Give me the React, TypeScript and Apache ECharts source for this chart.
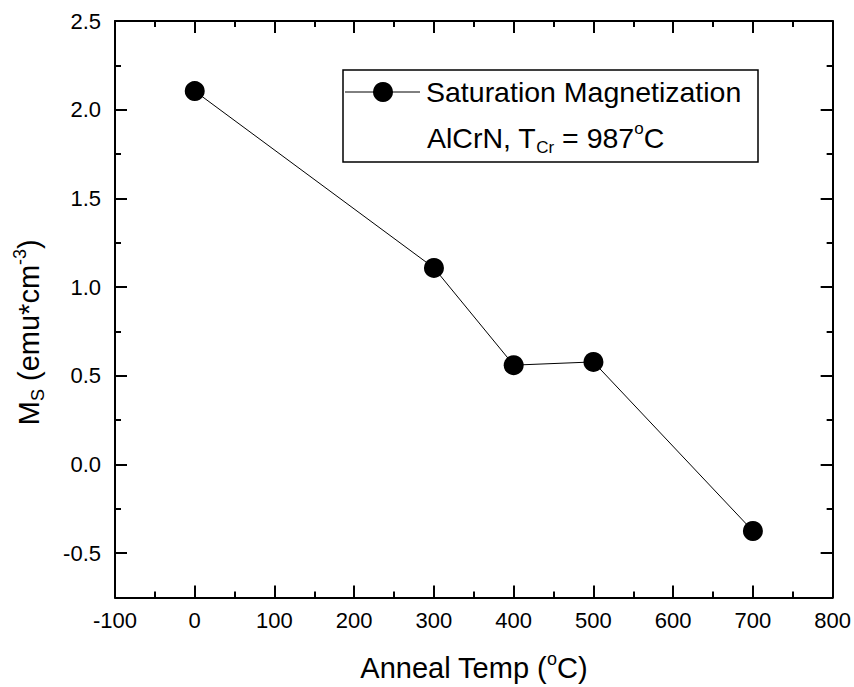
import React, { useEffect, useRef } from "react";
import * as echarts from "echarts";

const annealTemp = [0, 300, 400, 500, 700];
const saturationMagnetization = [2.105, 1.108, 0.56, 0.578, -0.375];
const seriesName = "Saturation Magnetization";
const sampleLabel = "AlCrN";
const tcrValue = "987";
const yMajorTicks = [-0.5, 0, 0.5, 1.0, 1.5, 2.0, 2.5];
const xRange = [-100, 800];
const xStep = 100;
const yRange = [-0.75, 2.5];
const yMinorStep = 0.25;

const FONT = "'Liberation Sans', Arial, Helvetica, sans-serif";

export default function App() {
  const ref = useRef<HTMLDivElement>(null);
  useEffect(() => {
    if (!ref.current) return;
    const chart = echarts.init(ref.current, undefined, { renderer: "svg" });
    const axisLine = { show: true, onZero: false, lineStyle: { color: "#000", width: 2 } };
    const hiddenLine = { show: false, onZero: false };
    const baseX = {
      type: "value" as const,
      min: xRange[0],
      max: xRange[1],
      interval: xStep,
      axisLine,
      splitLine: { show: false },
      axisTick: { show: true, inside: true, length: 12, lineStyle: { color: "#000", width: 2 } },
      minorTick: { show: true, splitNumber: 2, length: 6, lineStyle: { color: "#000", width: 2 } },
      minorSplitLine: { show: false },
    };
    const baseY = {
      type: "value" as const,
      min: yRange[0],
      max: yRange[1],
      interval: yMinorStep,
      axisLine,
      splitLine: { show: false },
    };
    const fmtY = (v: number) => v.toFixed(1);
    const richTitle = {
      a: { fontSize: 29, lineHeight: 36, verticalAlign: "middle", fontFamily: FONT, color: "#000" },
      s: { fontSize: 18, lineHeight: 17, verticalAlign: "bottom", fontFamily: FONT, color: "#000" },
      p: { fontSize: 18, lineHeight: 17, verticalAlign: "top", fontFamily: FONT, color: "#000" },
    };
    const option: any = {
      animation: false,
      backgroundColor: "#fff",
      textStyle: { fontFamily: FONT },
      grid: { left: 115, right: 21, top: 21, bottom: 86, containLabel: false },
      xAxis: [
        {
          ...baseX,
          position: "bottom",
          name: "{a|Anneal Temp (}{p|o}{a|C)}",
          nameLocation: "middle",
          nameGap: 52,
          nameTextStyle: {
            fontFamily: FONT,
            color: "#000",
            rich: richTitle,
          },
          axisLabel: { show: true, fontFamily: FONT, fontSize: 22, color: "#000", margin: 12 },
        },
        {
          ...baseX,
          position: "top",
          axisLabel: { show: false },
        },
      ],
      yAxis: [
        {
          ...baseY,
          position: "left",
          axisTick: { show: true, inside: true, length: 6, lineStyle: { color: "#000", width: 2 } },
          axisLabel: { show: false },
        },
        {
          ...baseY,
          position: "left",
          axisLine: hiddenLine,
          axisTick: {
            show: true,
            inside: true,
            length: 12,
            customValues: yMajorTicks,
            lineStyle: { color: "#000", width: 2 },
          },
          axisLabel: {
            show: true,
            customValues: yMajorTicks,
            formatter: fmtY,
            fontFamily: FONT,
            fontSize: 22,
            color: "#000",
            margin: 14,
          },
          name: "{a|M}{s|S}{a| (emu*cm}{p|-3}{a|)}",
          nameLocation: "middle",
          nameGap: 68,
          nameRotate: 90,
          nameTextStyle: {
            fontFamily: FONT,
            color: "#000",
            padding: [0, 46, 0, 0],
            rich: richTitle,
          },
        },
        {
          ...baseY,
          position: "right",
          axisTick: { show: true, inside: true, length: 6, lineStyle: { color: "#000", width: 2 } },
          axisLabel: { show: false },
        },
        {
          ...baseY,
          position: "right",
          axisLine: hiddenLine,
          axisTick: {
            show: true,
            inside: true,
            length: 12,
            customValues: yMajorTicks,
            lineStyle: { color: "#000", width: 2 },
          },
          axisLabel: { show: false },
        },
      ],
      series: [
        {
          name: seriesName,
          type: "line",
          xAxisIndex: 0,
          yAxisIndex: 0,
          data: annealTemp.map((t, i) => [t, saturationMagnetization[i]]),
          symbol: "circle",
          symbolSize: 20,
          showAllSymbol: true,
          lineStyle: { color: "#000", width: 1 },
          itemStyle: { color: "#000" },
          z: 3,
        },
      ],
      graphic: [
        {
          type: "rect",
          shape: { x: 343, y: 70, width: 415, height: 92 },
          style: { fill: "#fff", stroke: "#000", lineWidth: 1.5 },
          z: 10,
        },
        {
          type: "line",
          shape: { x1: 345, y1: 92, x2: 420, y2: 92 },
          style: { stroke: "#000", lineWidth: 1 },
          z: 11,
        },
        {
          type: "circle",
          shape: { cx: 383, cy: 92, r: 10 },
          style: { fill: "#000" },
          z: 11,
        },
        {
          type: "text",
          x: 426,
          y: 92,
          style: {
            text: seriesName,
            font: `28.5px ${FONT}`,
            fill: "#000",
            verticalAlign: "middle",
            align: "left",
          },
          z: 11,
        },
        {
          type: "text",
          x: 427,
          y: 138,
          style: {
            text: `{a|${sampleLabel}, T}{s|Cr}{a| = ${tcrValue}}{p|o}{a|C}`,
            fill: "#000",
            verticalAlign: "middle",
            align: "left",
            rich: {
              a: { fontSize: 28.5, lineHeight: 36, verticalAlign: "middle", fontFamily: FONT, fill: "#000" },
              s: { fontSize: 17, lineHeight: 17, verticalAlign: "bottom", fontFamily: FONT, fill: "#000" },
              p: { fontSize: 17, lineHeight: 17, verticalAlign: "top", fontFamily: FONT, fill: "#000" },
            },
          },
          z: 11,
        },
      ],
    };
    chart.setOption(option);
    return () => chart.dispose();
  }, []);
  return <div ref={ref} style={{ width: 854, height: 687, position: "absolute", left: 0, top: 0 }} />;
}
